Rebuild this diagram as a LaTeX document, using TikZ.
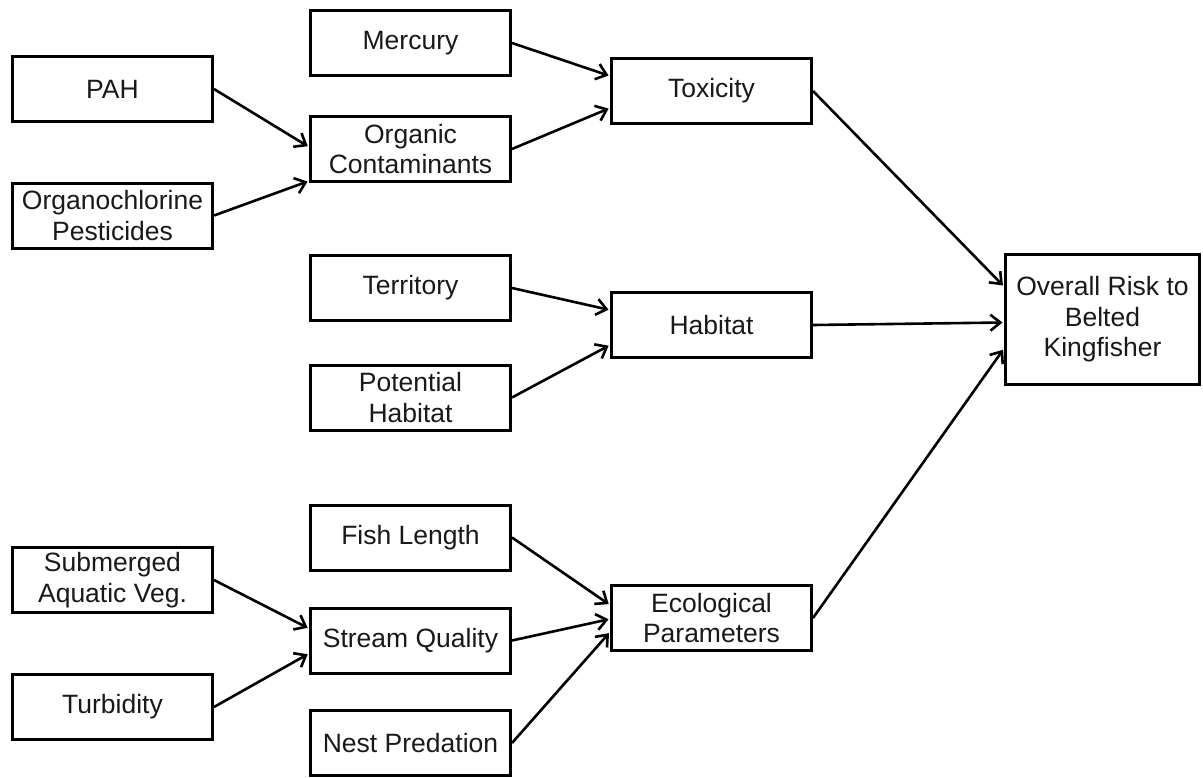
\documentclass[tikz,border=0pt]{standalone}
\usepackage{fontspec}
\setmainfont{Liberation Sans}
\usetikzlibrary{arrows.meta,calc}
\begin{document}
\begin{tikzpicture}[x=1pt,y=-1pt,
  box/.style={draw=black, line width=3pt, fill=white, minimum width=200pt,
    minimum height=65pt, inner sep=0pt, align=center,
    font=\fontsize{26.5}{30.5}\selectfont, text=black!90},
  link/.style={line width=2.6pt,
    -{Straight Barb[length=10pt,width=16pt,line width=2.6pt]}, shorten >=1.5pt}
]
\useasboundingbox[fill=white] (0,0) rectangle (1203,777);

% column 1
\node[box] (pah)   at (112.5,89)    {PAH};
\node[box] (ocp)   at (112.5,215.5) {Organochlorine\\Pesticides};
\node[box] (sav)   at (112.5,580)   {Submerged\\Aquatic Veg.};
\node[box] (turb)  at (112.5,707)   {Turbidity};

% column 2
\node[box] (merc)  at (410.5,43)    {Mercury};
\node[box] (org)   at (410.5,149)   {Organic\\Contaminants};
\node[box] (terr)  at (410.5,288)   {Territory};
\node[box] (pot)   at (410.5,397.5) {Potential\\Habitat};
\node[box] (fish)  at (410.5,537.5) {Fish Length};
\node[box] (strm)  at (410.5,640.5) {Stream Quality};
\node[box] (nest)  at (410.5,743)   {Nest Predation};

% column 3
\node[box] (tox)   at (711.5,91)    {Toxicity};
\node[box] (hab)   at (711.5,325)   {Habitat};
\node[box] (eco)   at (711.5,618)   {Ecological\\Parameters};

% final node
\node[box, minimum width=194pt, minimum height=130pt] (risk) at (1102.5,319.5)
  {Overall Risk to\\Belted\\Kingfisher};

% connectors
\draw[link] (pah.east)  -- ($(org.west)+(0,-2)$);
\draw[link] (ocp.east)  -- ($(org.west)+(0,32)$);
\draw[link] (merc.east) -- ($(tox.west)+(0,-15)$);
\draw[link] (org.east)  -- ($(tox.west)+(0,17)$);
\draw[link] (terr.east) -- ($(hab.west)+(0,-15)$);
\draw[link] (pot.east)  -- ($(hab.west)+(0,20)$);
\draw[link] (sav.east)  -- ($(strm.west)+(0,-12)$);
\draw[link] (turb.east) -- ($(strm.west)+(0,13)$);
\draw[link] (fish.east) -- ($(eco.west)+(0,-13)$);
\draw[link] (strm.east) -- ($(eco.west)+(0,1)$);
\draw[link] (nest.east) -- ($(eco.west)+(0,14)$);
\draw[link] (tox.east)  -- ($(risk.west)+(0,-33)$);
\draw[link] (hab.east)  -- ($(risk.west)+(0,3)$);
\draw[link] (eco.east)  -- ($(risk.west)+(0,29)$);
\end{tikzpicture}
\end{document}
